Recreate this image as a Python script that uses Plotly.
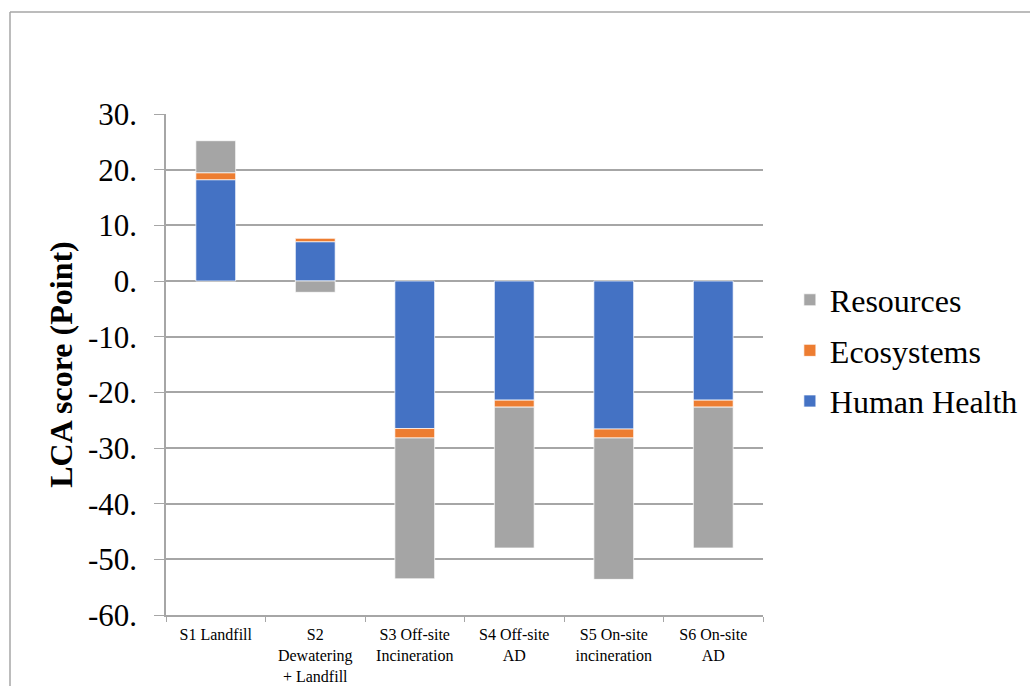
import plotly.graph_objects as go

# Scenarios on the x axis
categories = [
    "S1 Landfill",
    "S2<br>Dewatering<br>+ Landfill",
    "S3 Off-site<br>Incineration",
    "S4 Off-site<br>AD",
    "S5 On-site<br>incineration",
    "S6 On-site<br>AD",
]

# Endpoint scores (Point) per damage category
human_health = [18.2, 7.06, -26.5, -21.4, -26.6, -21.4]
ecosystems = [1.25, 0.6, -1.7, -1.26, -1.6, -1.26]
resources = [5.75, -2.03, -25.3, -25.3, -25.4, -25.3]

# Y axis ticks
y_tickvals = [30, 20, 10, 0, -10, -20, -30, -40, -50, -60]
y_ticktext = ["30.", "20.", "10.", "0.", "-10.", "-20.", "-30.", "-40.", "-50.", "-60."]

FONT = "Liberation Serif"
edge = dict(color="rgba(255,255,255,0.7)", width=1)

fig = go.Figure()
fig.add_trace(go.Bar(name="Human Health", x=categories, y=human_health,
                     marker=dict(color="#4472C4", line=edge),
                     legendgroup="hh", legendrank=3))
fig.add_trace(go.Bar(name="Ecosystems", x=categories, y=ecosystems,
                     marker=dict(color="#ED7D31", line=edge),
                     legendgroup="eco", legendrank=2))
fig.add_trace(go.Bar(name="Resources", x=categories, y=resources,
                     marker=dict(color="#A5A5A5", line=edge),
                     legendgroup="res", legendrank=1))

L, R, T, B = 166, 267, 114, 71
pw = 1030 - L - R
ph = 686 - T - B

fig.update_layout(
    width=1030, height=686,
    margin=dict(l=L, r=R, t=T, b=B, pad=0, autoexpand=False),
    barmode="relative",
    bargap=0.6,
    plot_bgcolor="white",
    paper_bgcolor="white",
    font=dict(family=FONT, color="black"),
    legend=dict(
        traceorder="grouped",
        font=dict(size=32, family=FONT),
        x=1.045, xanchor="left",
        y=0.528, yanchor="middle",
        tracegroupgap=6,
        bgcolor="rgba(0,0,0,0)",
    ),
    xaxis=dict(
        automargin=False,
        showline=True, linecolor="#A6A6A6", linewidth=1.5,
        ticks="outside", tickson="boundaries", ticklen=5, tickcolor="#A6A6A6",
        tickfont=dict(size=16, family=FONT),
        ticklabelstandoff=4,
        showgrid=False,
    ),
    yaxis=dict(
        automargin=False,
        range=[-60, 30],
        tickvals=y_tickvals, ticktext=y_ticktext,
        tickfont=dict(size=31, family=FONT),
        showline=True, linecolor="#A6A6A6", linewidth=1.5,
        ticks="outside", ticklen=10, tickcolor="#A6A6A6",
        ticklabelstandoff=11,
        showgrid=True, gridcolor="#A6A6A6", gridwidth=1.5,
        zeroline=False,
        title=dict(text="<b>LCA score (Point)</b>", font=dict(size=32, family=FONT),
                   standoff=6),
    ),
)

# Chart-area frame (left and top edges)
x_left = (10 - L) / pw
y_top = (686 - B - 12) / ph
fig.add_shape(type="line", xref="paper", yref="paper",
              x0=x_left, x1=x_left, y0=-0.3, y1=y_top,
              line=dict(color="#A6A6A6", width=1.5))
fig.add_shape(type="line", xref="paper", yref="paper",
              x0=x_left, x1=1.6, y0=y_top, y1=y_top,
              line=dict(color="#A6A6A6", width=1.5))

fig.write_html("out.html")
